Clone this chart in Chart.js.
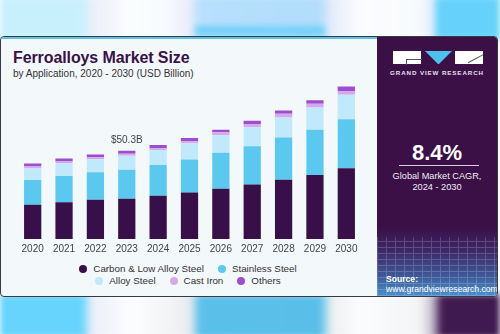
<!DOCTYPE html>
<html>
<head>
<meta charset="utf-8">
<script src="https://cdn.jsdelivr.net/npm/chart.js@4.4.1/dist/chart.umd.min.js"></script>
<style>
	html, body { margin: 0; padding: 0; }
	body {
		width: 500px; height: 334px; position: relative; overflow: hidden;
		font-family: "Liberation Sans", Arial, sans-serif;
		background: #ffffff;
	}
	.strip { position: absolute; left: 0; width: 500px; filter: blur(3px); }
	.strip.top {
		top: -4px; height: 44px;
		background: linear-gradient(90deg, #c8f0fc 0px, #c8f0fc 82px, #eceefa 92px, #fbfdfe 130px, #f6f9fe 170px, #e8ebfa 190px,
			#b6e0fc 200px, #b2ddfb 320px, #e6ecfa 332px, #fbfcfe 360px, #f7fafd 420px, #e3eefa 432px, #66d2fb 438px, #66d2fb 500px);
	}
	.strip.top::after {
		content: ""; position: absolute; left: 195px; width: 130px; top: 30px; height: 10px; background: #72d0f8;
	}
	.strip.bottom {
		top: 294px; height: 44px;
		background: linear-gradient(90deg, #66d4fc 0px, #66d4fc 82px, #eceefa 92px, #fbfdfe 130px, #f2f4f6 170px, #e8ebee 190px,
			#5ac0ea 200px, #5abfe8 320px, #eef0f2 332px, #fbfcfd 360px, #f3f4f6 420px, #c9c2cf 432px, #3f1a50 442px, #3f1a50 500px);
	}
	.card {
		position: absolute; left: 0; top: 36px; width: 496px; height: 259px;
		background: #f3f8fb; border: 1px solid #3a3a44; border-radius: 4px; overflow: hidden;
	}
	.card .bar { position: absolute; left: 0; top: 0; width: 378px; height: 2px; background: #5bc3e8; }
	.title {
		position: absolute; left: 12px; top: 12px; font-size: 16px; font-weight: bold; color: #3a1148; letter-spacing: -0.1px;
	}
	.subtitle { position: absolute; left: 12px; top: 31px; font-size: 10px; color: #333; }
	.panel {
		position: absolute; left: 376px; top: 0; width: 120px; height: 259px;
		background: linear-gradient(180deg, #3a1047 0px, #3a1047 190px, #3d2a6a 215px, #3f5a9a 240px, #4a90cc 259px);
		color: #fff; text-align: center;
	}
	.panel .grid {
		position: absolute; left: 0; right: 0; top: 200px; bottom: 0; opacity: 0.18;
		background:
			repeating-linear-gradient(0deg, #fff 0px, #fff 1px, transparent 1px, transparent 6px),
			repeating-linear-gradient(90deg, #fff 0px, #fff 1px, transparent 1px, transparent 9px);
	}
	.logo { position: absolute; top: 14px; left: 0; width: 120px; height: 13px; }
	.logo div { position: absolute; top: 0; height: 13px; }
	.logo .l { left: 16px; width: 28px; background: #fff; }
	.logo .l::after { content: ""; position: absolute; left: 13px; top: 8px; width: 15px; height: 5px; border-left: 1px solid #555; border-top: 1px solid #555; }
	.logo .m {
		left: 48px; width: 27px; height: 0; border-left: 13.5px solid transparent; border-right: 13.5px solid transparent;
		border-top: 13px solid #4ec1ef; box-sizing: border-box;
	}
	.logo .r { left: 78px; width: 28px; background: #fff; overflow: hidden; }
	.logo .r::after { content: ""; position: absolute; left: 12px; top: 7px; width: 18px; height: 1px; background: #555; transform: rotate(-28deg); }
	.brand { position: absolute; top: 32px; left: 0; width: 120px; font-size: 6.2px; font-weight: bold; letter-spacing: 0.9px; color: #e6e0ea; }
	.cagr { position: absolute; top: 103px; left: 0; width: 120px; font-size: 22px; font-weight: bold; }
	.rule { position: absolute; top: 128px; left: 22px; width: 80px; height: 1px; background: #d8d0de; }
	.cagr-text { position: absolute; top: 134px; left: 0; width: 120px; font-size: 9.2px; line-height: 11px; color: #f2eef5; }
	.source { position: absolute; left: 9px; top: 237px; font-size: 8.6px; line-height: 10px; text-align: left; color: #fff; }
	.source b { font-size: 8.6px; }
	#wrap { position: absolute; left: 0; top: 4px; width: 372px; height: 218px; }
	#legend {
		position: absolute; left: 0; top: 226px; width: 374px; font-size: 9.8px; color: #333; text-align: center; line-height: 12px;
	}
	#legend .row { white-space: nowrap; }
	#legend .item { display: inline-block; margin: 0 7px; }
	#legend .dot { display: inline-block; width: 8px; height: 8px; border-radius: 50%; margin-right: 6px; vertical-align: -1px; }
</style>
</head>
<body>
<div class="strip top"></div>
<div class="strip bottom"></div>
<div class="card">
	<div class="bar"></div>
	<div class="title">Ferroalloys Market Size</div>
	<div class="subtitle">by Application, 2020 - 2030 (USD Billion)</div>
	<div id="wrap"><canvas id="chart"></canvas></div>
	<div id="legend"></div>
	<div class="panel">
		<div class="grid"></div>
		<div class="logo"><div class="l"></div><div class="m"></div><div class="r"></div></div>
		<div class="brand">GRAND VIEW RESEARCH</div>
		<div class="cagr">8.4%</div>
		<div class="rule"></div>
		<div class="cagr-text">Global Market CAGR,<br>2024 - 2030</div>
		<div class="source"><b>Source:</b><br>www.grandviewresearch.com</div>
	</div>
</div>
<script>
	const years = ['2020', '2021', '2022', '2023', '2024', '2025', '2026', '2027', '2028', '2029', '2030'];

	// USD billion per application
	const carbonSteel    = [19.5, 20.9, 22.3, 23.0, 24.7, 26.5, 28.6, 31.0, 33.8, 36.5, 40.3];
	const stainlessSteel = [14.1, 15.0, 15.8, 16.5, 17.4, 18.8, 20.6, 21.9, 24.0, 25.8, 28.0];
	const alloySteel     = [6.7, 7.2, 7.4, 8.0, 8.6, 9.3, 9.9, 10.8, 11.5, 12.6, 13.9];
	const castIron       = [1.3, 1.3, 1.1, 1.1, 1.1, 1.1, 1.7, 1.8, 2.1, 2.1, 2.1];
	const others         = [1.4, 1.5, 1.5, 1.7, 1.8, 1.8, 1.4, 1.9, 1.8, 2.1, 2.6];

	const seriesNames  = ['Carbon & Low Alloy Steel', 'Stainless Steel', 'Alloy Steel', 'Cast Iron', 'Others'];
	const seriesColors = ['#37104a', '#5bc8f0', '#c0e9fb', '#d6a9ec', '#9b4fd0'];
	const calloutYear = '2023';

	const series = [carbonSteel, stainlessSteel, alloySteel, castIron, others];

	// total label above one bar, summed from the stacks
	const calloutPlugin = {
		id: 'callout',
		afterDatasetsDraw(chart) {
			const idx = years.indexOf(calloutYear);
			const total = chart.data.datasets.reduce((s, ds) => s + ds.data[idx], 0);
			const top = chart.getDatasetMeta(chart.data.datasets.length - 1).data[idx];
			const ctx = chart.ctx;
			ctx.save();
			ctx.font = '10px "Liberation Sans", Arial, sans-serif';
			ctx.fillStyle = '#444';
			ctx.textAlign = 'center';
			ctx.textBaseline = 'bottom';
			ctx.fillText('$' + total.toFixed(1) + 'B', top.x, top.y - 5);
			ctx.restore();
		}
	};

	// legend laid out in two centred rows
	const htmlLegend = {
		id: 'htmlLegend',
		afterUpdate(chart) {
			const items = chart.options.plugins.legend.labels.generateLabels(chart);
			const rows = [items.slice(0, 2), items.slice(2)];
			const box = document.getElementById('legend');
			box.innerHTML = '';
			rows.forEach((row) => {
				const line = document.createElement('div');
				line.className = 'row';
				row.forEach((it) => {
					const span = document.createElement('span');
					span.className = 'item';
					const dot = document.createElement('span');
					dot.className = 'dot';
					dot.style.background = it.fillStyle;
					span.appendChild(dot);
					span.appendChild(document.createTextNode(it.text));
					line.appendChild(span);
				});
				box.appendChild(line);
			});
		}
	};

	new Chart(document.getElementById('chart'), {
		type: 'bar',
		data: {
			labels: years,
			datasets: series.map((values, i) => ({
				label: seriesNames[i],
				data: values,
				backgroundColor: seriesColors[i],
				borderWidth: 0,
				barPercentage: 0.55,
				categoryPercentage: 1
			}))
		},
		options: {
			responsive: true,
			maintainAspectRatio: false,
			animation: false,
			layout: { padding: { left: 16, right: 11, top: 22.5, bottom: 0 } },
			plugins: {
				legend: { display: false },
				tooltip: { enabled: false }
			},
			scales: {
				x: {
					stacked: true,
					grid: { display: false, drawTicks: false },
					border: { display: false },
					ticks: {
						padding: 4,
						color: '#444',
						font: { family: '"Liberation Sans", Arial, sans-serif', size: 10 }
					}
				},
				y: {
					stacked: true,
					display: false,
					min: 0,
					max: 100
				}
			}
		},
		plugins: [calloutPlugin, htmlLegend]
	});
</script>
</body>
</html>
